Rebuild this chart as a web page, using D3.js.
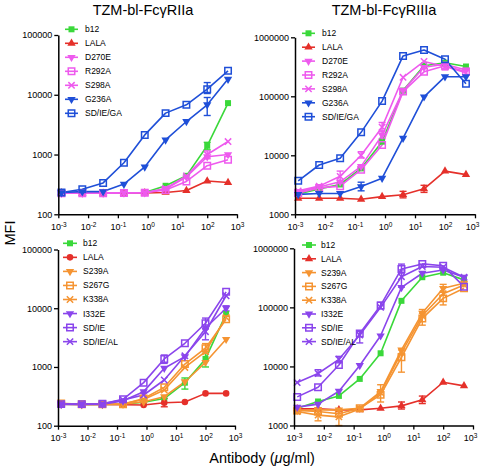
<!DOCTYPE html>
<html>
<head>
<meta charset="utf-8">
<script src="https://cdn.jsdelivr.net/npm/d3@7"></script>
<style>
html,body{margin:0;padding:0;background:#fff;}
svg{display:block;font-family:"Liberation Sans",Arial,Helvetica,sans-serif;}
</style>
</head>
<body>
<svg id="chart" width="480" height="467"></svg>
<script>
// ---------- DATA ----------
const conc = [0.00128, 0.0064, 0.032, 0.16, 0.8, 4, 20, 100, 500];
const xTicks = [1e-3, 1e-2, 1e-1, 1e0, 1e1, 1e2, 1e3];
const xTickExp = ["-3", "-2", "-1", "0", "1", "2", "3"];
const titles = ["TZM-bl-Fc\u03b3RIIa", "TZM-bl-Fc\u03b3RIIIa"];
const yLabel = "MFI";

// Top-left: FcγRIIa
const tlNames = ["b12", "LALA", "D270E", "R292A", "S298A", "G236A", "SD/IE/GA"];
const tl_b12    = [235, 230, 228, 228, 232, 300, 440, 1400, 7250];
const tl_LALA   = [228, 225, 225, 225, 228, 232, 250, 360, 340];
const tl_D270E  = [225, 225, 225, 228, 230, 265, 420, 920, 1000];
const tl_R292A  = [225, 225, 225, 228, 230, 255, 355, 650, 820];
const tl_S298A  = [228, 228, 228, 230, 232, 270, 440, 1000, 1650];
const tl_G236A  = [231, 240, 240, 320, 620, 1760, 3570, 6800, 18300];
const tl_SDIEGA = [231, 262, 335, 730, 2130, 4930, 6800, 12400, 25200];
const tlErr = [[6, 7, 10500, 16000], [5, 7, 4500, 9000], [0, 7, 1200, 1600], [4, 7, 850, 1150]];
const tlYTicks = [100, 1000, 10000, 100000];

// Top-right: FcγRIIIa
const trNames = ["b12", "LALA", "D270E", "R292A", "S298A", "G236A", "SD/IE/GA"];
const tr_b12    = [2200, 2700, 3200, 6000, 17000, 125000, 330000, 370000, 320000];
const tr_LALA   = [1870, 1870, 1870, 1800, 1990, 2150, 2700, 5400, 4700];
const tr_D270E  = [2400, 2900, 3550, 6500, 22000, 125000, 310000, 350000, 280000];
const tr_R292A  = [2300, 2800, 3000, 5700, 15000, 120000, 260000, 330000, 260000];
const tr_S298A  = [2500, 3000, 4400, 10000, 30000, 210000, 390000, 320000, 250000];
const tr_G236A  = [2180, 2250, 2250, 2950, 4100, 19500, 98000, 215000, 215000];
const tr_SDIEGA = [3700, 6850, 8950, 24500, 83000, 483000, 610000, 424000, 163000];
const trErr = [[5, 3, 2500, 3500], [4, 2, 3700, 5400], [4, 4, 25000, 36000], [2, 4, 19000, 26000],
               [1, 5, 1900, 2450], [1, 6, 2350, 3100], [4, 7, 280000, 350000], [4, 3, 9000, 11500]];
const trYTicks = [1000, 10000, 100000, 1000000];

// Bottom-left: FcγRIIa
const blNames = ["b12", "LALA", "S239A", "S267G", "K338A", "I332E", "SD/IE", "SD/IE/AL"];
const bl_b12    = [232, 230, 230, 232, 250, 290, 540, 1370, 8000];
const bl_LALA   = [232, 230, 230, 228, 225, 246, 253, 355, 355];
const bl_S239A  = [232, 230, 230, 232, 255, 312, 560, 1200, 2960];
const bl_S267G  = [240, 232, 232, 232, 290, 450, 1120, 2090, 6500];
const bl_K338A  = [235, 232, 232, 235, 280, 405, 980, 1820, 7000];
const bl_I332E  = [230, 230, 232, 265, 380, 950, 1500, 4600, 10000];
const bl_SDIE   = [233, 233, 237, 281, 541, 1370, 2530, 5540, 19000];
const bl_SDIEAL = [233, 233, 235, 275, 333, 600, 1550, 3980, 16300];
const blErr = [[6, 5, 1150, 1600], [6, 7, 4500, 6800], [7, 7, 2900, 5200], [0, 6, 420, 650],
               [0, 7, 1000, 1700], [1, 5, 210, 290], [3, 7, 1700, 2500], [5, 8, 9000, 11000]];
const blYTicks = [100, 1000, 10000, 100000];

// Bottom-right: FcγRIIIa
const brNames = ["b12", "LALA", "S239A", "S267G", "K338A", "I332E", "SD/IE", "SD/IE/AL"];
const br_b12    = [1960, 2550, 3170, 6150, 16700, 129000, 324000, 386000, 292000];
const br_LALA   = [1910, 1910, 1840, 1840, 1960, 2150, 2720, 5400, 4690];
const br_S239A  = [1790, 1840, 1840, 1960, 3760, 19000, 80000, 210000, 256000];
const br_S267G  = [1790, 1730, 1580, 1960, 3300, 14300, 65000, 142000, 210000];
const br_K338A  = [1730, 1500, 1400, 1910, 3600, 17200, 72000, 170000, 240000];
const br_I332E  = [2050, 2300, 3800, 10400, 33000, 218000, 378000, 430000, 324000];
const br_SDIE   = [3050, 4450, 10600, 36000, 108000, 447000, 544000, 505000, 224000];
const br_SDIEAL = [5340, 7600, 13200, 34000, 100000, 330000, 493000, 478000, 324000];
const brErr = [[6, 5, 380000, 540000], [7, 5, 220000, 430000], [7, 3, 25000, 39000], [7, 2, 11500, 14800],
               [7, 1, 6900, 8800], [3, 4, 2500, 4900], [3, 5, 8000, 16500], [4, 1, 1200, 2000],
               [3, 2, 1000, 1900], [2, 6, 50000, 92000], [3, 7, 110000, 180000], [2, 7, 180000, 245000],
               [1, 5, 1900, 2500], [1, 6, 2350, 3150], [6, 4, 95000, 122000]];
const brYTicks = [1000, 10000, 100000, 1000000];

// ---------- STYLE ----------
const C = {green: "#3ad83a", red: "#e5302a", pink: "#ee5aee", blue: "#1f4fd8", orange: "#f59432", purple: "#8a45ec"};

const panels = [
  {names: tlNames, vals: [tl_b12, tl_LALA, tl_D270E, tl_R292A, tl_S298A, tl_G236A, tl_SDIEGA], err: tlErr,
   yTicks: tlYTicks, yDom: [100, 100000], x: [58.3, 237], y: [214.3, 35],
   colors: [C.green, C.red, C.pink, C.pink, C.pink, C.blue, C.blue],
   marks: ["sq", "tri", "tridown", "osq", "x", "tridown", "osq"],
   leg: {lx0: 65, lx1: 78, tx: 85, y0: 29.3, dy: 14}},
  {names: trNames, vals: [tr_b12, tr_LALA, tr_D270E, tr_R292A, tr_S298A, tr_G236A, tr_SDIEGA], err: trErr,
   yTicks: trYTicks, yDom: [1000, 1000000], x: [295, 475], y: [214.3, 37.3],
   colors: [C.green, C.red, C.pink, C.pink, C.pink, C.blue, C.blue],
   marks: ["sq", "tri", "tridown", "osq", "x", "tridown", "osq"],
   leg: {lx0: 302, lx1: 315, tx: 322, y0: 33.3, dy: 13.9}},
  {names: blNames, vals: [bl_b12, bl_LALA, bl_S239A, bl_S267G, bl_K338A, bl_I332E, bl_SDIE, bl_SDIEAL], err: blErr,
   yTicks: blYTicks, yDom: [100, 100000], x: [58, 235], y: [425.7, 249.5],
   colors: [C.green, C.red, C.orange, C.orange, C.orange, C.purple, C.purple, C.purple],
   marks: ["sq", "circ", "tridown", "osq", "x", "tridown", "osq", "x"],
   leg: {lx0: 63, lx1: 77, tx: 83, y0: 243.3, dy: 14.05}},
  {names: brNames, vals: [br_b12, br_LALA, br_S239A, br_S267G, br_K338A, br_I332E, br_SDIE, br_SDIEAL], err: brErr,
   yTicks: brYTicks, yDom: [1000, 1000000], x: [294, 473], y: [425.5, 248.3],
   colors: [C.green, C.red, C.orange, C.orange, C.orange, C.purple, C.purple, C.purple],
   marks: ["sq", "tri", "tridown", "osq", "x", "tridown", "osq", "x"],
   leg: {lx0: 302, lx1: 316, tx: 321, y0: 245, dy: 13.8}}
];

const svg = d3.select("#chart");
const FONT = "'Liberation Sans', Arial, Helvetica, sans-serif";

const xSym = {draw(ctx, size) { const r = Math.sqrt(size) / 2; ctx.moveTo(-r, -r); ctx.lineTo(r, r); ctx.moveTo(r, -r); ctx.lineTo(-r, r); }};

function drawMarker(g, type, color, cx, cy) {
  let path, fill = color, stroke = "none", sw = 0, rot = 0;
  if (type === "sq") path = d3.symbol(d3.symbolSquare, 36)();
  else if (type === "tri") path = d3.symbol(d3.symbolTriangle, 30)();
  else if (type === "tridown") { path = d3.symbol(d3.symbolTriangle, 30)(); rot = 180; }
  else if (type === "circ") path = d3.symbol(d3.symbolCircle, 34)();
  else if (type === "osq") { path = d3.symbol(d3.symbolSquare, 42)(); fill = "none"; stroke = color; sw = 1.5; }
  else if (type === "x") { path = d3.symbol(xSym, 40)(); fill = "none"; stroke = color; sw = 1.5; }
  g.append("path").attr("d", path)
    .attr("transform", `translate(${cx},${cy}) rotate(${rot})`)
    .attr("fill", fill).attr("stroke", stroke).attr("stroke-width", sw);
}

panels.forEach((p, pi) => {
  const x = d3.scaleLog().domain([1e-3, 1e3]).range(p.x);
  const y = d3.scaleLog().domain(p.yDom).range(p.y);
  const g = svg.append("g");

  p.vals.forEach((vals, si) => {
    const line = d3.line().x((d, i) => x(conc[i])).y(d => y(d));
    g.append("path").datum(vals).attr("d", line)
      .attr("fill", "none").attr("stroke", p.colors[si]).attr("stroke-width", 1.6)
      .attr("stroke-linejoin", "round");
  });
  p.err.forEach(([si, i, lo, hi]) => {
    const cx = x(conc[i]);
    const col = p.colors[si];
    g.append("line").attr("x1", cx).attr("x2", cx).attr("y1", y(lo)).attr("y2", y(hi))
      .attr("stroke", col).attr("stroke-width", 1.4);
    [lo, hi].forEach(v => g.append("line").attr("x1", cx - 3.5).attr("x2", cx + 3.5)
      .attr("y1", y(v)).attr("y2", y(v)).attr("stroke", col).attr("stroke-width", 1.4));
  });
  p.vals.forEach((vals, si) => {
    vals.forEach((v, i) => drawMarker(g, p.marks[si], p.colors[si], x(conc[i]), y(v)));
  });

  const yAxis = d3.axisLeft(y).tickValues(p.yTicks).tickFormat(d3.format("d")).tickSize(4).tickSizeOuter(0).tickPadding(2);
  const ya = svg.append("g").attr("transform", `translate(${p.x[0]},0)`).call(yAxis);
  const xAxis = d3.axisBottom(x).tickValues(xTicks).tickSize(4).tickSizeOuter(0).tickPadding(2).tickFormat(() => "");
  const xa = svg.append("g").attr("transform", `translate(0,${p.y[0]})`).call(xAxis);
  [ya, xa].forEach(a => {
    a.select(".domain").attr("stroke", "#000").attr("stroke-width", 1.5);
    a.selectAll(".tick line").attr("stroke", "#000").attr("stroke-width", 1.3);
    a.selectAll("text").attr("font-family", FONT).attr("font-size", 9).attr("fill", "#000");
  });
  xa.selectAll(".tick text").each(function(d, i) {
    const t = d3.select(this).text(null).attr("dy", "1.05em");
    if (i === xTicks.length - 1 && p.x[1] > 470) t.attr("x", -3);
    t.append("tspan").text("10");
    t.append("tspan").attr("dy", "-0.45em").attr("font-size", 6.5).text(xTickExp[i]);
  });

  p.names.forEach((n, si) => {
    const ly = p.leg.y0 + si * p.leg.dy;
    g.append("line").attr("x1", p.leg.lx0).attr("x2", p.leg.lx1).attr("y1", ly).attr("y2", ly)
      .attr("stroke", p.colors[si]).attr("stroke-width", 1.6);
    drawMarker(g, p.marks[si], p.colors[si], (p.leg.lx0 + p.leg.lx1) / 2, ly);
    g.append("text").attr("x", p.leg.tx).attr("y", ly).attr("dy", "0.35em")
      .attr("font-family", FONT).attr("font-size", 8.5).attr("fill", "#000").text(n);
  });
});

[[143, titles[0]], [384, titles[1]]].forEach(([cx, t]) => {
  svg.append("text").attr("x", cx).attr("y", 15).attr("text-anchor", "middle")
    .attr("font-family", FONT).attr("font-size", 14.5).attr("fill", "#000").text(t);
});
svg.append("text").attr("transform", "translate(15,233) rotate(-90)").attr("text-anchor", "middle")
  .attr("font-family", FONT).attr("font-size", 14.5).attr("fill", "#000").text(yLabel);
const xl = svg.append("text").attr("x", 262).attr("y", 463).attr("text-anchor", "middle")
  .attr("font-family", FONT).attr("font-size", 14.5).attr("fill", "#000");
xl.append("tspan").text("Antibody (");
xl.append("tspan").attr("font-style", "italic").text("\u03bc");
xl.append("tspan").text("g/ml)");
</script>
</body>
</html>
